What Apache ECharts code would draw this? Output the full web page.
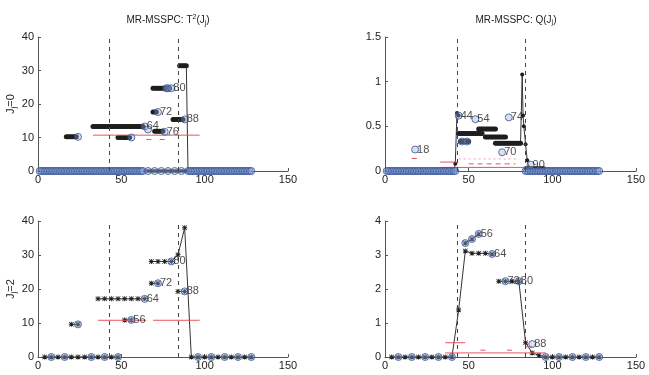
<!DOCTYPE html>
<html>
<head>
<meta charset="utf-8">
<script src="https://cdn.jsdelivr.net/npm/echarts@6/dist/echarts.min.js"></script>
<style>
  html, body { margin: 0; padding: 0; background: #fff; }
  #chart { width: 649px; height: 375px; }
</style>
</head>
<body>
<div id="chart"></div>
<script>
// grid order: 0 = T2 J=0, 1 = Q J=0, 2 = T2 J=2, 3 = Q J=2
const yMaxes = [40, 1.5, 40, 4];
const yIntervals = [10, 0.5, 10, 1];
const changePoints = [43, 84];

// ---- T2, J=0 (dense, one point per sample) ----
// runs of samples sitting on one level: [from, to, level]
const t2j0ZeroBlue = [[1, 63], [90, 128]];
const t2j0ZeroBlueExtra = [66, 70, 74, 78, 82, 86];
const t2j0ZeroDark = [[64, 89, 0]];
const t2j0Rows = [
  [17, 23, 10.2],
  [33, 63, 13.3],
  [48, 55, 10.0],
  [69, 79, 24.7],
  [69, 71, 17.6],
  [70, 75, 11.9],
  [81, 87, 15.4],
  [85, 89, 31.4]
];
const t2j0Drop = [[89, 31.4], [90, 0]];
const t2j0Circles = [
  [24, 10.2, ''], [64, 13.3, '64'], [66, 12.4, ''], [56, 10.0, ''],
  [77, 24.7, ''], [78, 24.7, ''], [80, 24.7, '80'], [72, 17.6, '72'],
  [76, 11.7, '76'], [88, 15.4, '88']
];
const t2j0Limits = [[33, 97, 10.7]];
const t2j0LimitDash = [[65, 68, 9.4], [73, 76, 9.4]];

// ---- Q, J=0 ----
const qj0ZeroBlue = [[1, 42], [84, 128]];
const qj0Rows = [
  [44, 58, 0.42],
  [56, 66, 0.47],
  [60, 72, 0.38],
  [66, 81, 0.31],
  [45, 50, 0.33]
];
const qj0Rise = [[41, 0], [42, 0.08], [43, 0.65], [44, 0.62]];
const qj0Spike = [[81, 0.31], [82, 1.08], [82.5, 0.62], [83, 0.5], [84, 0.3], [85, 0.12], [86, 0.04]];
const qj0Tail = [[84, 95, 0.03]];
const qj0Circles = [
  [18, 0.24, '18'], [44, 0.62, '44'], [46, 0.33, ''], [49, 0.33, ''],
  [54, 0.58, '54'], [74, 0.6, '74'], [70, 0.21, '70'], [87, 0.07, '90']
];
const qj0Limits = [[33, 88, 0.04], [33, 43, 0.1], [16, 19, 0.14]];
const qj0LimitDash = [[50, 78, 0.08]];
const qj0LimitDot = [[44, 80, 0.135]];

// ---- T2, J=2 (one point every 4 samples) ----
const t2j2Lines = [
  [[4, 0], [8, 0], [12, 0], [16, 0], [20, 0], [24, 0], [28, 0], [32, 0], [36, 0], [40, 0], [44, 0], [48, 0]],
  [[20, 9.6], [24, 9.6]],
  [[36, 17.1], [40, 17.1], [44, 17.1], [48, 17.1], [52, 17.1], [56, 17.1], [60, 17.1], [64, 17.1]],
  [[52, 10.9], [56, 10.9]],
  [[68, 21.7], [72, 21.7]],
  [[68, 28.1], [72, 28.1], [76, 28.1], [80, 28.1], [84, 30.1], [88, 38], [92, 0], [96, 0], [100, 0],
   [104, 0], [108, 0], [112, 0], [116, 0], [120, 0], [124, 0], [128, 0]],
  [[84, 19.3], [88, 19.3]]
];
const t2j2Circles = [
  [8, 0, ''], [16, 0, ''], [32, 0, ''], [40, 0, ''], [48, 0, ''],
  [24, 9.6, ''], [64, 17.1, '64'], [56, 10.9, '56'], [72, 21.7, '72'],
  [80, 28.1, '80'], [88, 19.3, '88'],
  [96, 0, ''], [104, 0, ''], [112, 0, ''], [120, 0, ''], [128, 0, '']
];
const t2j2Limits = [[36, 65, 10.8], [69, 97, 10.8]];

// ---- Q, J=2 ----
const qj2Lines = [
  [[4, 0], [8, 0], [12, 0], [16, 0], [20, 0], [24, 0], [28, 0], [32, 0], [36, 0], [40, 0],
   [44, 1.38], [48, 3.12], [52, 3.05], [56, 3.05], [60, 3.05], [64, 3.03]],
  [[48, 3.35], [52, 3.47], [56, 3.62]],
  [[68, 2.23], [72, 2.23], [76, 2.23], [80, 2.23], [84, 0.42], [88, 0.12], [92, 0.05], [96, 0],
   [100, 0], [104, 0], [108, 0], [112, 0], [116, 0], [120, 0], [124, 0], [128, 0]]
];
const qj2Circles = [
  [8, 0, ''], [16, 0, ''], [24, 0, ''], [32, 0, ''], [40, 0, ''],
  [64, 3.03, '64'], [48, 3.35, ''], [52, 3.47, ''], [56, 3.62, '56'],
  [72, 2.23, '72'], [80, 2.23, '80'], [88, 0.38, '88'],
  [96, 0, ''], [104, 0, ''], [112, 0, ''], [120, 0, ''], [128, 0, '']
];
const qj2Limits = [[36, 48, 0.42], [36, 96, 0.12]];
const qj2LimitDash = [[57, 60, 0.2], [73, 76, 0.2], [84, 88, 0.3]];

const STAR = 'path://M0,4L10,4L10,6L0,6Z M4,0L6,0L6,10L4,10Z M1,0L10,9L9,10L0,1Z M9,0L10,1L1,10L0,9Z';
const RED = '#e65560';

// one point per sample over a run
function run(from, to, level) {
  let pts = [];
  for (let x = from; x <= to; x++) pts.push([x, level]);
  return pts;
}

function lineSeries(g, data, symbol, size, color, z) {
  return {
    type: 'line', xAxisIndex: g, yAxisIndex: g, data: data,
    symbol: symbol, symbolSize: size, showSymbol: true, animation: false, silent: true,
    lineStyle: { color: '#333', width: 1 },
    itemStyle: { color: color },
    z: z || 2
  };
}

function circleSeries(g, data, size) {
  return {
    type: 'scatter', xAxisIndex: g, yAxisIndex: g, data: data,
    symbol: 'circle', symbolSize: size || 7, animation: false, silent: true,
    itemStyle: { color: 'rgba(150,172,214,0.45)', borderColor: '#34539a', borderWidth: 1 },
    label: {
      show: true, position: 'right', distance: -2, fontSize: 11, color: '#222',
      fontFamily: 'Liberation Sans', formatter: p => p.data[2] || ''
    },
    z: 4
  };
}

function segSeries(g, segs, type, color, withMark) {
  return segs.map((s, i) => {
    let ser = {
      type: 'line', xAxisIndex: g, yAxisIndex: g,
      data: [[s[0], s[2]], [s[1], s[2]]],
      symbol: 'none', animation: false, silent: true,
      lineStyle: { color: color, width: 1, type: type },
      z: 3
    };
    if (withMark && i === 0) {
      ser.markLine = {
        symbol: 'none', silent: true, animation: false,
        label: { show: false },
        lineStyle: { color: '#444', width: 1, type: [4, 4] },
        data: changePoints.map(x => ({ xAxis: x }))
      };
    }
    return ser;
  });
}

let series = [];

// T2 J=0
series.push(...segSeries(0, t2j0Limits, 'solid', RED, true));
series.push(...segSeries(0, t2j0LimitDash, 'solid', RED));
t2j0ZeroDark.forEach(r => series.push(lineSeries(0, run(r[0], r[1], r[2]), 'rect', [3, 3], '#333')));
let zb0 = [];
t2j0ZeroBlue.forEach(r => zb0.push(...run(r[0], r[1], 0)));
t2j0ZeroBlueExtra.forEach(x => zb0.push([x, 0]));
series.push(circleSeries(0, zb0));
t2j0Rows.forEach(r => series.push(lineSeries(0, run(r[0], r[1], r[2]), 'circle', 5, '#1e1e1e')));
series.push(lineSeries(0, t2j0Drop, 'none', '#333'));
series.push(circleSeries(0, t2j0Circles));

// Q J=0
series.push(...segSeries(1, qj0Limits, 'solid', RED, true));
series.push(...segSeries(1, qj0LimitDash, [5, 4], RED));
series.push(...segSeries(1, qj0LimitDot, [2, 3], '#f0a0a8'));
let zb1 = [];
qj0ZeroBlue.forEach(r => zb1.push(...run(r[0], r[1], 0)));
series.push(circleSeries(1, zb1));
qj0Tail.forEach(r => series.push(lineSeries(1, run(r[0], r[1], r[2]), 'circle', 4, '#1e1e1e')));
qj0Rows.forEach(r => series.push(lineSeries(1, run(r[0], r[1], r[2]), 'circle', 5, '#1e1e1e')));
series.push(lineSeries(1, qj0Rise, 'circle', 4, '#1e1e1e'));
series.push(lineSeries(1, qj0Spike, 'circle', 4, '#1e1e1e'));
series.push(circleSeries(1, qj0Circles));

// T2 J=2
series.push(...segSeries(2, t2j2Limits, 'solid', RED, true));
t2j2Lines.forEach(l => series.push(lineSeries(2, l, STAR, 5, '#222')));
series.push(circleSeries(2, t2j2Circles));

// Q J=2
series.push(...segSeries(3, qj2Limits, 'solid', RED, true));
series.push(...segSeries(3, qj2LimitDash, 'solid', RED));
qj2Lines.forEach(l => series.push(lineSeries(3, l, STAR, 5, '#222')));
series.push(circleSeries(3, qj2Circles));

const grids = [
  { left: 38, top: 37, width: 250, height: 134 },
  { left: 385, top: 37, width: 251, height: 134 },
  { left: 38, top: 221, width: 250, height: 136 },
  { left: 385, top: 221, width: 251, height: 136 }
];

const axisText = { fontSize: 11, color: '#222', fontFamily: 'Liberation Sans' };
const axisLineStyle = { lineStyle: { color: '#555', width: 1 } };

let xAxes = grids.map((g, i) => ({
  type: 'value', gridIndex: i, min: 0, max: 150, interval: 50,
  axisLine: axisLineStyle,
  axisTick: { show: true, inside: true, length: 3, lineStyle: { color: '#555' } },
  axisLabel: Object.assign({ margin: 3 }, axisText),
  splitLine: { show: false }
}));

const subRich = {
  a: { fontSize: 11, color: '#222', fontFamily: 'Liberation Sans' },
  s: { fontSize: 8, color: '#222', fontFamily: 'Liberation Sans', padding: [5, 0, 0, 0] }
};

let yAxes = grids.map((g, i) => ({
  type: 'value', gridIndex: i, min: 0, max: yMaxes[i], interval: yIntervals[i],
  axisLine: axisLineStyle,
  axisTick: { show: true, inside: true, length: 3, lineStyle: { color: '#555' } },
  axisLabel: Object.assign({ margin: 4 }, axisText),
  splitLine: { show: false },
  name: i === 0 ? '{a|J}{s|j}{a|=0}' : (i === 2 ? '{a|J}{s|j}{a|=2}' : ''),
  nameLocation: 'middle', nameRotate: 90, nameGap: 18,
  nameTextStyle: { rich: subRich }
}));

const titleRich = {
  a: { fontSize: 10, color: '#222', fontWeight: 'normal', fontFamily: 'Liberation Sans' },
  p: { fontSize: 7, color: '#222', fontWeight: 'normal', fontFamily: 'Liberation Sans', padding: [0, 0, 6, 0] },
  s: { fontSize: 7, color: '#222', fontWeight: 'normal', fontFamily: 'Liberation Sans', padding: [5, 0, 0, 0] }
};

const chart = echarts.init(document.getElementById('chart'), null, { renderer: 'canvas' });
chart.setOption({
  backgroundColor: '#fff',
  animation: false,
  title: [
    { text: '{a|MR-MSSPC: T}{p|2}{a|(J}{s|j}{a|)}', left: 163, top: 9, textAlign: 'center',
      textStyle: { fontWeight: 'normal', rich: titleRich } },
    { text: '{a|MR-MSSPC: Q(J}{s|j}{a|)}', left: 511, top: 9, textAlign: 'center',
      textStyle: { fontWeight: 'normal', rich: titleRich } }
  ],
  grid: grids,
  xAxis: xAxes,
  yAxis: yAxes,
  series: series
});
</script>
</body>
</html>
